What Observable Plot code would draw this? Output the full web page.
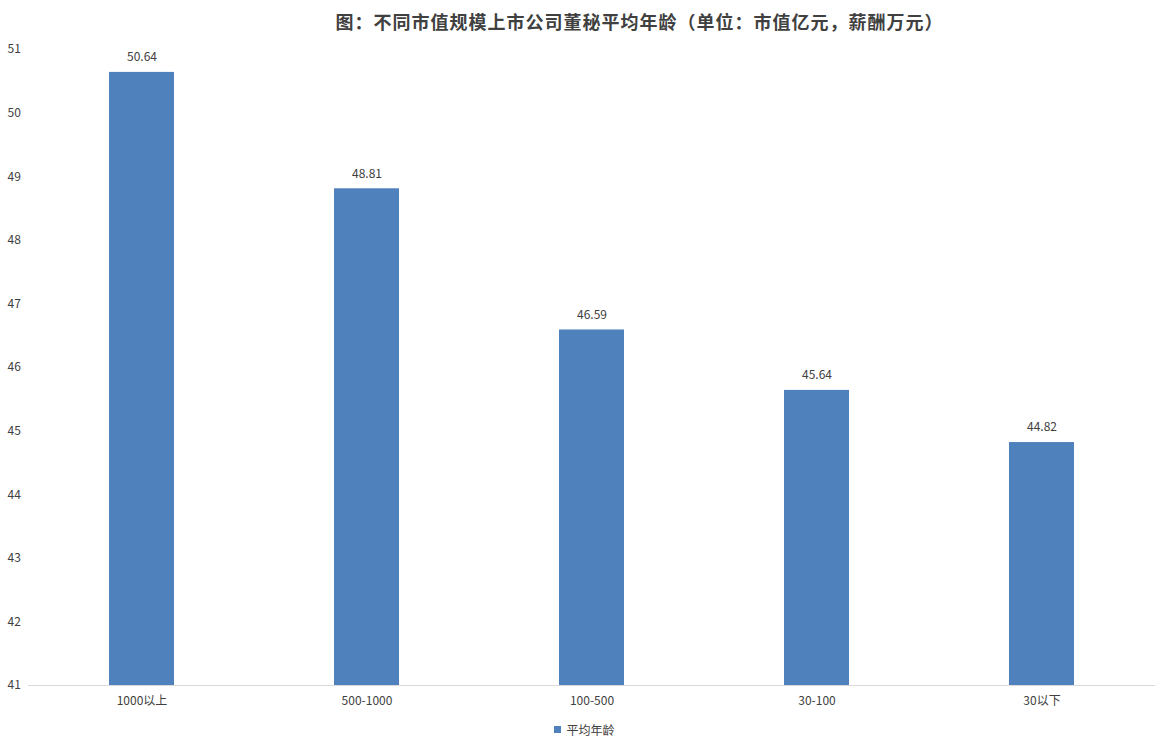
<!DOCTYPE html>
<html>
<head>
<meta charset="utf-8">
<script src="https://cdn.jsdelivr.net/npm/d3@7"></script>
<script src="https://cdn.jsdelivr.net/npm/@observablehq/plot@0.6"></script>
<style>
  html, body { margin: 0; padding: 0; background: #fff; }
  body { width: 1169px; height: 739px; overflow: hidden; font-family: "Noto Sans CJK SC", "Noto Sans", sans-serif; }
  #title { height: 40px; line-height: 42px; text-align: center; font-size: 18px; font-weight: bold; color: #404040; padding-left: 110px; box-sizing: border-box; letter-spacing: 1px; }
  #legend { height: 24px; display: flex; align-items: center; justify-content: center; font-size: 12px; color: #404040; padding-left: 0px; margin-top: 0px; }
  #legend .sw { width: 7px; height: 7px; background: #4f81bd; margin-right: 5px; }
</style>
</head>
<body>
<div id="title">图：不同市值规模上市公司董秘平均年龄（单位：市值亿元，薪酬万元）</div>
<div id="chart"></div>
<div id="legend"><span class="sw"></span><span>平均年龄</span></div>
<script>
const categories = ["1000以上", "500-1000", "100-500", "30-100", "30以下"];
const avgAge = [50.64, 48.81, 46.59, 45.64, 44.82];
const yTicks = [41, 42, 43, 44, 45, 46, 47, 48, 49, 50, 51];
const yMin = 41, yMax = 51;
const seriesName = "平均年龄";

const data = categories.map((c, i) => ({ cat: c, value: avgAge[i] }));

const chart = Plot.plot({
  width: 1169,
  height: 677,
  marginTop: 9,
  marginBottom: 32,
  marginLeft: 28,
  marginRight: 14,
  style: { fontFamily: '"Noto Sans CJK SC", "Noto Sans", sans-serif', fontSize: "12px", color: "#404040", background: "#fff" },
  x: { domain: categories, paddingInner: 0.71, paddingOuter: 0.355, label: null },
  y: { domain: [yMin, yMax], label: null },
  marks: [
    Plot.barY(data, { x: "cat", y1: () => yMin, y2: "value", fill: "#4f81bd" }),
    Plot.ruleY([yMin], { stroke: "#d9d9d9", strokeWidth: 1.2 }),
    Plot.text(data, { x: "cat", y: "value", text: d => d.value.toFixed(2), dy: -15, fill: "#404040", fontSize: 12 }),
    Plot.axisY({ ticks: yTicks, tickSize: 0, textAnchor: "start", dx: -12, tickFormat: d => String(d), fill: "#404040", fontSize: 12, label: null }),
    Plot.axisX({ tickSize: 0, tickPadding: 11, fill: "#404040", fontSize: 12, label: null })
  ]
});
document.getElementById("chart").appendChild(chart);
</script>
</body>
</html>
